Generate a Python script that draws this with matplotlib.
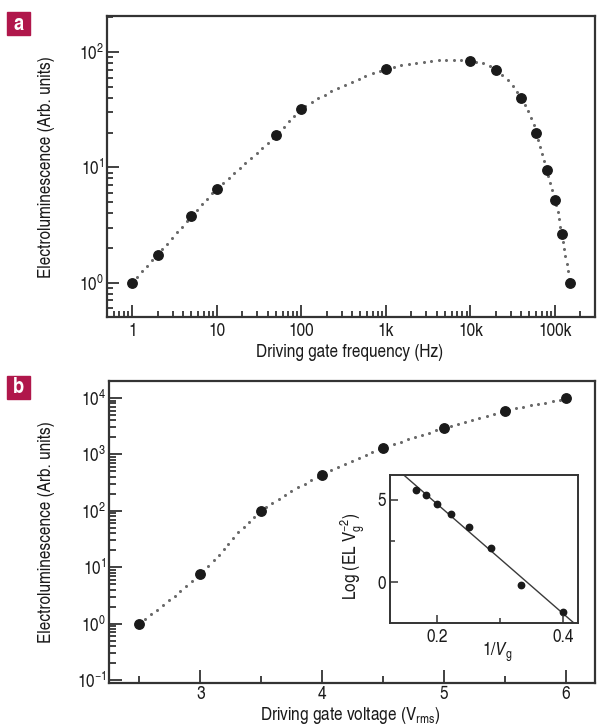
import numpy as np
import matplotlib

matplotlib.use("Agg")
import matplotlib.pyplot as plt
from matplotlib.patches import Rectangle
from matplotlib.collections import LineCollection
from matplotlib.ticker import (LogLocator, NullFormatter, FixedLocator,
                               LogFormatterSciNotation)

COND = "TeX Gyre Heros Cn"
plt.rcParams["font.family"] = [COND, "Liberation Sans", "DejaVu Sans"]
plt.rcParams["mathtext.fontset"] = "custom"
plt.rcParams["mathtext.rm"] = COND
plt.rcParams["mathtext.it"] = COND + ":italic"
plt.rcParams["mathtext.bf"] = COND + ":bold"

# --- data, panel a: EL vs driving gate frequency ---------------------------
freq_hz = [1, 2, 5, 10, 50, 100, 1e3, 1e4, 2e4, 4e4, 6e4, 8e4, 1e5, 1.2e5, 1.5e5]
el_freq = [1.0, 1.75, 3.75, 6.5, 19, 32, 71, 84, 70, 40, 20, 9.4, 5.2, 2.65, 1.0]
freq_ticks = [1, 10, 100, 1e3, 1e4, 1e5]
freq_tick_labels = ["1", "10", "100", "1k", "10k", "100k"]

# --- data, panel b: EL vs driving gate voltage ------------------------------
volt = [2.5, 3.0, 3.5, 4.0, 4.5, 5.0, 5.5, 6.0]
el_volt = [1.0, 7.7, 100, 440, 1300, 2940, 5900, 9800]

CRIMSON = "#b0174b"
DOT = "#6a6a6a"
INK = "#1a1a1a"
SPINE = "#333333"
LABEL_FS = 13.5
TICK_FS = 13.5


def catmull_rom(pts, n=60, alpha=0.5):
    """Centripetal Catmull-Rom curve through the given points."""
    P = np.asarray(pts, float)
    P = np.vstack([2 * P[0] - P[1], P, 2 * P[-1] - P[-2]])
    out = []
    for i in range(len(P) - 3):
        p0, p1, p2, p3 = P[i:i + 4]
        t0 = 0.0
        t1 = t0 + np.linalg.norm(p1 - p0) ** alpha
        t2 = t1 + np.linalg.norm(p2 - p1) ** alpha
        t3 = t2 + np.linalg.norm(p3 - p2) ** alpha
        t = np.linspace(t1, t2, n, endpoint=False)[:, None]
        a1 = (t1 - t) / (t1 - t0) * p0 + (t - t0) / (t1 - t0) * p1
        a2 = (t2 - t) / (t2 - t1) * p1 + (t - t1) / (t2 - t1) * p2
        a3 = (t3 - t) / (t3 - t2) * p2 + (t - t2) / (t3 - t2) * p3
        b1 = (t2 - t) / (t2 - t0) * a1 + (t - t0) / (t2 - t0) * a2
        b2 = (t3 - t) / (t3 - t1) * a2 + (t - t1) / (t3 - t1) * a3
        out.append((t2 - t) / (t2 - t1) * b1 + (t - t1) / (t2 - t1) * b2)
    out.append(P[-2][None])
    return np.vstack(out)


def dotted_curve(ax, x, y, step_px=7.5):
    """Draw a guide curve as evenly spaced dots (in screen space)."""
    disp = ax.transData.transform(np.column_stack([x, y]))
    seg = np.hypot(*np.diff(disp, axis=0).T)
    s = np.concatenate([[0], np.cumsum(seg)])
    at = np.arange(0, s[-1], step_px)
    pts = np.column_stack([np.interp(at, s, disp[:, 0]), np.interp(at, s, disp[:, 1])])
    data = ax.transData.inverted().transform(pts)
    ax.plot(data[:, 0], data[:, 1], linestyle="none", marker="o", ms=2.2,
            mec="none", mfc=DOT, zorder=2)


def style(ax, lw=1.6):
    for s in ax.spines.values():
        s.set_linewidth(lw)
        s.set_color(SPINE)
    ax.tick_params(which="both", direction="in", top=False, right=False,
                   length=0, labelsize=TICK_FS, labelcolor=INK)


def inward_ticks(ax, major=8.5, minor=4.5, width=1.3):
    """Inward tick marks at the axis' own tick locations, drawn as segments."""
    px = fig.dpi / 72.0
    w, h = ax.bbox.width, ax.bbox.height
    x0, x1 = sorted(ax.get_xlim())
    y0, y1 = sorted(ax.get_ylim())
    for locs, L in ((ax.xaxis.get_majorticklocs(), major),
                    (ax.xaxis.get_minorticklocs(), minor)):
        segs = [[(x, 0), (x, L * px / h)] for x in locs if x0 <= x <= x1]
        ax.add_collection(LineCollection(segs, transform=ax.get_xaxis_transform(),
                                         colors=SPINE, linewidths=width,
                                         clip_on=False, zorder=4))
    for locs, L in ((ax.yaxis.get_majorticklocs(), major),
                    (ax.yaxis.get_minorticklocs(), minor)):
        segs = [[(0, y), (L * px / w, y)] for y in locs if y0 <= y <= y1]
        ax.add_collection(LineCollection(segs, transform=ax.get_yaxis_transform(),
                                         colors=SPINE, linewidths=width,
                                         clip_on=False, zorder=4))


def panel_tag(fig, letter, top_px):
    W, H = fig.get_size_inches() * fig.dpi
    fig.add_artist(Rectangle((7 / W, 1 - (top_px + 23) / H), 23 / W, 23 / H,
                             transform=fig.transFigure, color=CRIMSON))
    fig.text(18.5 / W, 1 - (top_px + 12) / H, letter, color="white",
             fontsize=16, fontweight="bold", ha="center", va="center")


fig = plt.figure(figsize=(5.97, 7.26), dpi=100)

# --- panel a ----------------------------------------------------------------
ax = fig.add_axes([0.179, 0.563, 0.818, 0.415])
ax.set_xscale("log")
ax.set_yscale("log")
ax.set_xlim(0.5, 3e5)
ax.set_ylim(0.5, 205)
curve = catmull_rom(np.column_stack([np.log10(freq_hz), np.log10(el_freq)]))
dotted_curve(ax, 10 ** curve[:, 0], 10 ** curve[:, 1])
ax.plot(freq_hz, el_freq, "o", color=INK, ms=6.8, zorder=3)
ax.set_xlim(0.5, 3e5)
ax.set_ylim(0.5, 205)
ax.set_xticks(freq_ticks, freq_tick_labels)
ax.xaxis.set_minor_locator(LogLocator(base=10, subs=np.arange(2, 10), numticks=20))
ax.xaxis.set_minor_formatter(NullFormatter())
ax.yaxis.set_major_locator(FixedLocator([1, 10, 100]))
ax.yaxis.set_major_formatter(LogFormatterSciNotation())
ax.yaxis.set_minor_locator(LogLocator(base=10, subs=np.arange(2, 10), numticks=20))
ax.yaxis.set_minor_formatter(NullFormatter())
style(ax)
ax.tick_params(axis="x", pad=4)
ax.tick_params(axis="y", pad=2)
inward_ticks(ax)
ax.set_xlabel("Driving gate frequency (Hz)", fontsize=LABEL_FS, color=INK)
ax.set_ylabel("Electroluminescence (Arb. units)", fontsize=LABEL_FS, color=INK)
ax.xaxis.set_label_coords(0.497, -0.09)
ax.yaxis.set_label_coords(-0.106, 0.5)
panel_tag(fig, "a", 12)

# --- panel b ----------------------------------------------------------------
bx = fig.add_axes([0.1826, 0.0592, 0.8144, 0.416])
bx.set_yscale("log")
bx.set_xlim(2.25, 6.24)
bx.set_ylim(0.0886, 2.0e4)
curve_b = catmull_rom(np.column_stack([volt, np.log10(el_volt)]))
dotted_curve(bx, curve_b[:, 0], 10 ** curve_b[:, 1])
bx.plot(volt, el_volt, "o", color=INK, ms=6.8, zorder=3)
bx.set_xlim(2.25, 6.24)
bx.set_ylim(0.0886, 2.0e4)
bx.set_xticks([3, 4, 5, 6])
bx.set_xticks([2.5, 3.5, 4.5, 5.5], minor=True)
bx.yaxis.set_major_locator(FixedLocator([0.1, 1, 10, 100, 1e3, 1e4]))
bx.yaxis.set_major_formatter(LogFormatterSciNotation())
bx.yaxis.set_minor_locator(LogLocator(base=10, subs=np.arange(2, 10), numticks=20))
bx.yaxis.set_minor_formatter(NullFormatter())
style(bx)
bx.tick_params(axis="x", pad=2.5)
bx.tick_params(axis="y", pad=2)
inward_ticks(bx, major=9.5, minor=5)
bx.set_xlabel(r"Driving gate voltage (V$_{\rm rms}$)", fontsize=LABEL_FS, color=INK)
bx.set_ylabel("Electroluminescence (Arb. units)", fontsize=LABEL_FS, color=INK)
bx.xaxis.set_label_coords(0.495, -0.074)
bx.yaxis.set_label_coords(-0.112, 0.5)
panel_tag(fig, "b", 376)

# --- inset: log(EL/V^2) against 1/V -----------------------------------------
inv_v = 1.0 / np.asarray(volt)
log_el = np.log(np.asarray(el_volt) / np.asarray(volt) ** 2)
slope, icpt = np.polyfit(inv_v, log_el, 1)

ix = fig.add_axes([0.6533, 0.1415, 0.3154, 0.2042])
xs = np.array([0.10, 0.45])
ix.plot(xs, slope * xs + icpt, color="#3a3a3a", lw=1.0, zorder=2)
ix.plot(inv_v, log_el, "o", color=INK, ms=4.6, zorder=3)
ix.set_xlim(0.125, 0.424)
ix.set_ylim(-2.5, 6.5)
ix.set_xticks([0.2, 0.4], ["0.2", "0.4"])
ix.set_xticks([0.3], minor=True)
ix.set_yticks([0, 5], ["0", "5"])
ix.set_yticks([2.5], minor=True)
style(ix, lw=1.4)
ix.tick_params(axis="x", pad=4)
ix.tick_params(axis="y", pad=3)
inward_ticks(ix, major=6, minor=3.5, width=1.1)
ix.set_xlabel(r"1/$\it{V}_{\rm g}$", fontsize=LABEL_FS, color=INK)
ix.set_ylabel(r"Log (EL V$_{\rm g}^{-2}$)", fontsize=LABEL_FS, color=INK)
ix.xaxis.set_label_coords(0.57, -0.12)
ix.yaxis.set_label_coords(-0.12, 0.45)

fig.savefig("out.png", dpi=100, facecolor="white")
